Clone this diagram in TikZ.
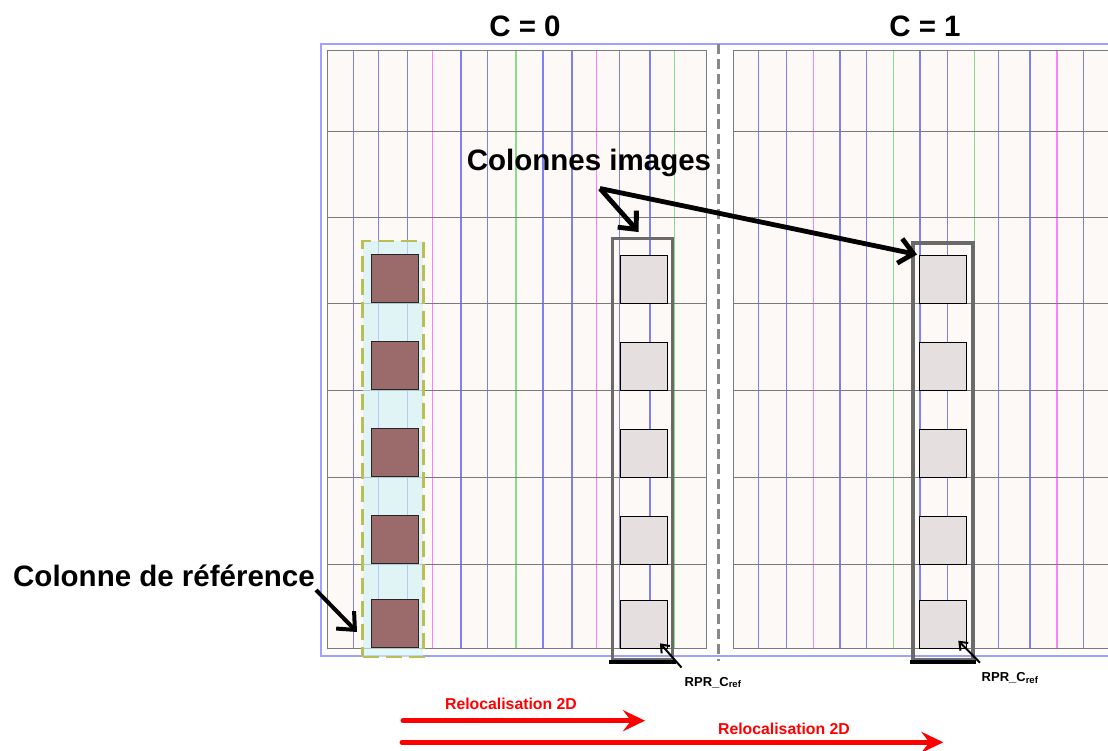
\documentclass[tikz,border=0pt]{standalone}
\usepackage{fontspec}
\setmainfont{Liberation Sans}
\usetikzlibrary{arrows.meta}
\definecolor{gridfill}{HTML}{FDF9F7}
\definecolor{vblue}{HTML}{8080F5}
\definecolor{vpink}{HTML}{FF80FF}
\definecolor{vgreen}{HTML}{88DD88}
\definecolor{hline}{HTML}{7A7A7A}
\definecolor{frameblue}{HTML}{A0A0FF}
\definecolor{refcyan}{HTML}{D2F2F5}
\definecolor{refdash}{HTML}{BABF55}
\definecolor{brownsq}{HTML}{9B6A6A}
\definecolor{graysq}{HTML}{E6DFDF}
\definecolor{boxgray}{HTML}{6A6A6A}
\definecolor{sepgray}{HTML}{888888}
\begin{document}
\begin{tikzpicture}[x=1pt,y=-1pt,
  bigtxt/.style={font=\fontsize{29.5}{32}\selectfont\bfseries, inner sep=0pt, anchor=base},
  redtxt/.style={font=\fontsize{15.8}{18}\selectfont\bfseries, text=red, inner sep=0pt, anchor=base},
  smalltxt/.style={font=\fontsize{13}{15}\selectfont\bfseries, inner sep=0pt, anchor=base west},
  refsq/.style={draw=black!85, line width=1pt, fill=brownsq, minimum width=47pt, minimum height=48pt, inner sep=0pt},
  imgsq/.style={draw=black, line width=0.8pt, fill=graysq, minimum width=47.5pt, minimum height=47.5pt, inner sep=0pt},
  vb/.style={draw=vblue, line width=1.4pt},
  vp/.style={draw=vpink, line width=1.4pt},
  vg/.style={draw=vgreen, line width=1.4pt},
  hl/.style={draw=hline, line width=0.9pt},
  gridbox/.style={fill=gridfill, draw=hline, line width=0.9pt},
  imgbox/.style={draw=boxgray, line width=3.5pt, inner sep=0pt, minimum width=60pt},
  refbox/.style={draw=refdash, line width=2.6pt, dash pattern=on 16pt off 7pt, fill=refcyan, fill opacity=0.65, inner sep=0pt, minimum width=60.6pt, minimum height=416pt},
  blackarr/.style={-{Straight Barb[length=14pt,width=25pt]}, line width=4.8pt},
  thinarr/.style={-{Straight Barb[length=7pt,width=11pt]}, line width=2pt},
  redarr/.style={red, line width=5pt, line cap=round, -{Stealth[length=22pt,width=21pt,inset=8pt]}},
  sep/.style={draw=sepgray, line width=3.6pt, dash pattern=on 10pt off 5pt}
]
\useasboundingbox (0,0) rectangle (1108,751);
\begin{scope}
\clip (0,0) rectangle (1108,751);
% outer frame
\draw[frameblue, line width=1.3pt] (321,44) rectangle (1130,656);
% grids
\path[gridbox] (327,50) rectangle (706,648);
\path[gridbox] (733,50) rectangle (1130,648);
% left grid verticals
\foreach \x in {353.7,378.3,407.7,461,487.3,543,572,619.3,650}
  \draw[vb] (\x,50) -- (\x,648);
\foreach \x in {432.3,596.7}
  \draw[vp] (\x,50) -- (\x,648);
\foreach \x in {516,674.3}
  \draw[vg] (\x,50) -- (\x,648);
% right grid verticals
\foreach \x in {758.3,786.7,840,866.7,920,947.3,998.7,1030,1083.3}
  \draw[vb] (\x,50) -- (\x,648);
\foreach \x in {813.7,1057}
  \draw[vp] (\x,50) -- (\x,648);
\foreach \x in {893.7,974.3}
  \draw[vg] (\x,50) -- (\x,648);
% horizontals
\foreach \y in {131,217,303,390,477,564}{
  \draw[hl] (327,\y) -- (706,\y);
  \draw[hl] (733,\y) -- (1130,\y);
}
\draw[hl] (327,50) rectangle (706,648);
\draw[hl] (733,50) -- (1130,50);
\draw[hl] (733,648) -- (1130,648);
\draw[hl] (733,50) -- (733,648);
\end{scope}
% separator
\draw[sep] (718.5,44) -- (718.5,661);
% reference column
\node[refbox] (refcol) at (393,449) {};
\foreach \i/\b in {1/303,2/390,3/477,4/564,5/648}
  \node[refsq] (r\i) at (394.5,\b-24.25) {};
% image columns
\node[imgbox, minimum height=421.7pt] (box0) at (642.7,449.15) {};
\node[imgbox, minimum height=417pt] (box1) at (943,451.5) {};
\draw[line width=4.2pt] ([xshift=-1.7pt]box0.south west) -- ([xshift=1.7pt]box0.south east);
\draw[line width=4.2pt] ([xshift=-1.7pt]box1.south west) -- ([xshift=1.7pt]box1.south east);
\foreach \i/\b in {1/303,2/390,3/477,4/564,5/648}{
  \node[imgsq] (a\i) at (643.9,\b-23.75) {};
  \node[imgsq] (b\i) at (943,\b-23.75) {};
}
% titles
\node[bigtxt] (c0) at (525,36.7) {C = 0};
\node[bigtxt] (c1) at (925,36.7) {C = 1};
\node[bigtxt] (colimg) at (589,170.7) {Colonnes images};
\node[bigtxt] (colref) at (164,586.7) {Colonne de référence};
% black arrows
\coordinate (ciA) at (600,188.5);
\coordinate (tipB) at (917,254.5);
\draw[blackarr, shorten >=6pt] (ciA) -- (box0.north);
\draw[blackarr] (ciA) -- (tipB);
\coordinate (crA) at (316,590);
\coordinate (crB) at (357,632);
\draw[blackarr, line width=4pt] (crA) -- (crB);
% RPR labels
\node[smalltxt] (rpr0) at (684.5,686) {RPR\_C\raisebox{-1.5pt}{\fontsize{9.5}{10}\selectfont ref}};
\node[smalltxt] (rpr1) at (981.5,681.7) {RPR\_C\raisebox{-1.5pt}{\fontsize{9.5}{10}\selectfont ref}};
\coordinate (p0) at (681.5,667.5);
\coordinate (q0) at (660,643.3);
\coordinate (p1) at (980,662.7);
\coordinate (q1) at (958.3,640.7);
\draw[thinarr] (p0) -- (q0);
\draw[thinarr] (p1) -- (q1);
% red arrows
\node[redtxt] (rl1) at (511,709) {Relocalisation 2D};
\node[redtxt] (rl2) at (784,734.3) {Relocalisation 2D};
\coordinate (s1) at (403,720.7);
\coordinate (e1) at (645,720.7);
\coordinate (s2) at (402,742.3);
\coordinate (e2) at (943.3,742.3);
\draw[redarr] (s1) -- (e1);
\draw[redarr] (s2) -- (e2);
\end{tikzpicture}
\end{document}
